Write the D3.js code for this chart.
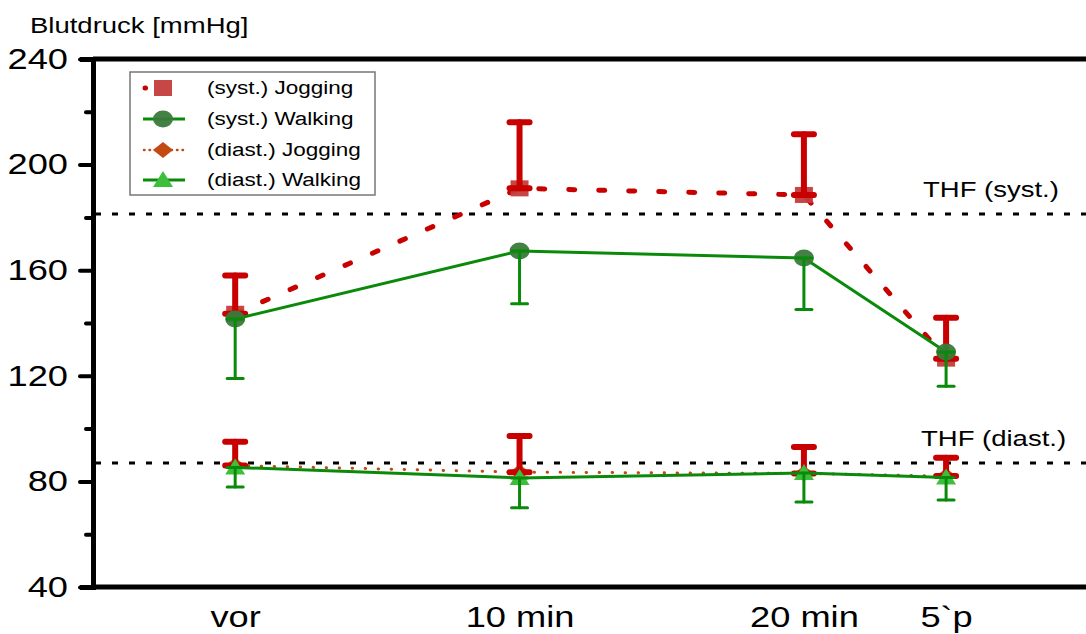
<!DOCTYPE html>
<html>
<head>
<meta charset="utf-8">
<script src="https://cdn.jsdelivr.net/npm/d3@7"></script>
<style>
  body { margin: 0; background: #fff; }
  text { font-family: "Liberation Sans", Arial, sans-serif; fill: #000; }
</style>
</head>
<body>
<div id="chart"></div>
<script>
// data
const categories = ["vor", "10 min", "20 min", "5`p"]
const timeMin = [0, 10, 20, 25]
const systJog = [143.5, 191, 188.5, 126.5]
const systJogSD = [14.5, 25, 23, 15.5]
const systWalk = [141.5, 167.3, 164.6, 129]
const systWalkSD = [22.5, 20, 19.5, 13]
const diastJog = [86, 83.5, 83, 82]
const diastJogSD = [9, 13.7, 10, 7]
const diastWalk = [85.3, 81.3, 83.2, 81.5]
const diastWalkSD = [7.4, 11.3, 11, 8.5]
const thfValues = [181.3, 87]
const thfLabels = ["THF (syst.)", "THF (diast.)"]
const yTicks = [40, 80, 120, 160, 200, 240]
const yMinor = [60, 100, 140, 180, 220]
const legendLabels = ["(syst.) Jogging", "(syst.) Walking", "(diast.) Jogging", "(diast.) Walking"]

const w = 1086
const h = 634
const sx = 1.25 // the text in the picture is stretched sideways

const RED = "#c80000", SQ = "#c43c3c", GREEN = "#0a8a0a", CIRC = "#3a7a3a",
      ORANGE = "#c44a14", TRI = "#3cc03c"

var svg = d3.select("#chart").append("svg")
    .attr("width", w).attr("height", h)

var x = d3.scaleLinear().domain([-5, 29.92]).range([93, 1086])
var y = d3.scaleLinear().domain([40, 240]).range([587, 59])

// frame lines
svg.append("line").attr("x1", 93).attr("x2", w).attr("y1", y(240)).attr("y2", y(240))
    .attr("stroke", "#000").attr("stroke-width", 5)
svg.append("line").attr("x1", 93).attr("x2", w).attr("y1", y(40)).attr("y2", y(40))
    .attr("stroke", "#000").attr("stroke-width", 5)

// y axis
var yAxis = svg.append("g").attr("transform", "translate(93,0)")
    .call(d3.axisLeft(y).tickValues(yTicks).tickSize(13).tickPadding(7).tickFormat(d3.format("d")))
yAxis.select(".domain").attr("stroke-width", 5)
yAxis.selectAll(".tick line").attr("stroke-width", 4).attr("stroke-linecap", "round")
yAxis.selectAll(".tick text").attr("font-size", 29).attr("font-family", "Liberation Sans, Arial")
    .attr("transform", "scale(" + sx + ",1)")

var yAxisMinor = svg.append("g").attr("transform", "translate(93,0)")
    .call(d3.axisLeft(y).tickValues(yMinor).tickSize(7).tickFormat(""))
yAxisMinor.select(".domain").remove()
yAxisMinor.selectAll(".tick line").attr("stroke-width", 4).attr("stroke-linecap", "round")

// x labels
var xAxis = svg.append("g").attr("transform", "translate(0,598)")
    .call(d3.axisBottom(x).tickValues(timeMin).tickSize(0).tickPadding(0)
        .tickFormat(function(d, i) { return categories[i] }))
xAxis.select(".domain").remove()
xAxis.selectAll(".tick text").attr("font-size", 29).attr("font-family", "Liberation Sans, Arial")
    .attr("dy", "1em").attr("transform", "scale(" + sx + ",1)")

// title
svg.append("text").attr("transform", "translate(30,33) scale(" + sx + ",1)")
    .attr("font-size", 22).text("Blutdruck [mmHg]")

// THF lines
thfValues.forEach(function(v, i) {
    svg.append("line").attr("x1", 95).attr("x2", w).attr("y1", y(v)).attr("y2", y(v))
        .attr("stroke", "#000").attr("stroke-width", 3).attr("stroke-dasharray", "6,11")
    svg.append("text").attr("transform", "translate(" + (i == 0 ? 923 : 921) + "," + (y(v) - 17) + ") scale(" + sx + ",1)")
        .attr("font-size", 22).text(thfLabels[i])
})

function pts(vals) {
    return vals.map(function(v, i) { return [x(timeMin[i]), y(v)] })
}
var line = d3.line()

function errorBars(vals, sd, dir, color, width, capW) {
    var g = svg.append("g").attr("stroke", color).attr("stroke-width", width).attr("stroke-linecap", "round")
    vals.forEach(function(v, i) {
        var cx = x(timeMin[i]), y0 = y(v), y1 = y(v + dir * sd[i])
        g.append("line").attr("x1", cx).attr("x2", cx).attr("y1", y0).attr("y2", y1)
        g.append("line").attr("x1", cx - capW / 2).attr("x2", cx + capW / 2).attr("y1", y1).attr("y2", y1)
        g.append("line").attr("x1", cx - capW / 2).attr("x2", cx + capW / 2).attr("y1", y0).attr("y2", y0)
    })
}

function square(g, cx, cy) {
    g.append("rect").attr("x", cx - 9).attr("y", cy - 8).attr("width", 18).attr("height", 16)
        .attr("fill", SQ).attr("opacity", 0.95)
}
function circle(g, cx, cy) {
    g.append("ellipse").attr("cx", cx).attr("cy", cy).attr("rx", 10).attr("ry", 8.5)
        .attr("fill", CIRC).attr("opacity", 0.95)
}
function diamond(g, cx, cy) {
    g.append("path").attr("d", "M" + cx + "," + (cy - 8) + "L" + (cx + 10) + "," + cy + "L" + cx + "," + (cy + 8) + "L" + (cx - 10) + "," + cy + "Z")
        .attr("fill", ORANGE)
}
function triangle(g, cx, cy) {
    g.append("path").attr("d", "M" + cx + "," + (cy - 9) + "L" + (cx + 10) + "," + (cy + 7) + "L" + (cx - 10) + "," + (cy + 7) + "Z")
        .attr("fill", TRI)
}

// diastolic: jogging
svg.append("path").attr("d", line(pts(diastJog))).attr("fill", "none")
    .attr("stroke", ORANGE).attr("stroke-width", 3).attr("stroke-linecap", "round").attr("stroke-dasharray", "0.5,12.5")
var gdj = svg.append("g")
diastJog.forEach(function(v, i) { diamond(gdj, x(timeMin[i]), y(v)) })
errorBars(diastJog, diastJogSD, 1, RED, 6, 20)

// diastolic: walking
svg.append("path").attr("d", line(pts(diastWalk))).attr("fill", "none")
    .attr("stroke", GREEN).attr("stroke-width", 3)
var gdw = svg.append("g")
diastWalk.forEach(function(v, i) { triangle(gdw, x(timeMin[i]), y(v)) })
errorBars(diastWalk, diastWalkSD, -1, GREEN, 3, 16)

// systolic: jogging
svg.append("path").attr("d", line(pts(systJog))).attr("fill", "none")
    .attr("stroke", RED).attr("stroke-width", 5).attr("stroke-linecap", "round").attr("stroke-dasharray", "6,24")
var gsj = svg.append("g")
systJog.forEach(function(v, i) { square(gsj, x(timeMin[i]), y(v)) })
errorBars(systJog, systJogSD, 1, RED, 6, 20)

// systolic: walking
svg.append("path").attr("d", line(pts(systWalk))).attr("fill", "none")
    .attr("stroke", GREEN).attr("stroke-width", 3)
var gsw = svg.append("g")
systWalk.forEach(function(v, i) { circle(gsw, x(timeMin[i]), y(v)) })
errorBars(systWalk, systWalkSD, -1, GREEN, 3, 16)

// legend
var lg = svg.append("g")
lg.append("rect").attr("x", 130).attr("y", 72).attr("width", 245).attr("height", 123)
    .attr("fill", "#fff").attr("stroke", "#777").attr("stroke-width", 1.5)
var rows = [88, 119, 150, 180]
legendLabels.forEach(function(t, i) {
    var ry = rows[i]
    if (i == 0) {
        lg.append("line").attr("x1", 145).attr("x2", 180).attr("y1", ry).attr("y2", ry)
            .attr("stroke", RED).attr("stroke-width", 5).attr("stroke-linecap", "round").attr("stroke-dasharray", "0.5,34.5")
        square(lg, 163, ry)
    } else if (i == 1) {
        lg.append("line").attr("x1", 143).attr("x2", 185).attr("y1", ry).attr("y2", ry)
            .attr("stroke", GREEN).attr("stroke-width", 3)
        circle(lg, 163, ry)
    } else if (i == 2) {
        lg.append("line").attr("x1", 144).attr("x2", 183).attr("y1", ry).attr("y2", ry)
            .attr("stroke", ORANGE).attr("stroke-width", 2.5).attr("stroke-linecap", "round").attr("stroke-dasharray", "0.5,5")
        diamond(lg, 163, ry)
    } else {
        lg.append("line").attr("x1", 143).attr("x2", 185).attr("y1", ry).attr("y2", ry)
            .attr("stroke", GREEN).attr("stroke-width", 3)
        triangle(lg, 163, ry)
    }
    lg.append("text").attr("transform", "translate(207," + (ry + 6) + ") scale(" + sx + ",1)")
        .attr("font-size", 18).text(t)
})
</script>
</body>
</html>
